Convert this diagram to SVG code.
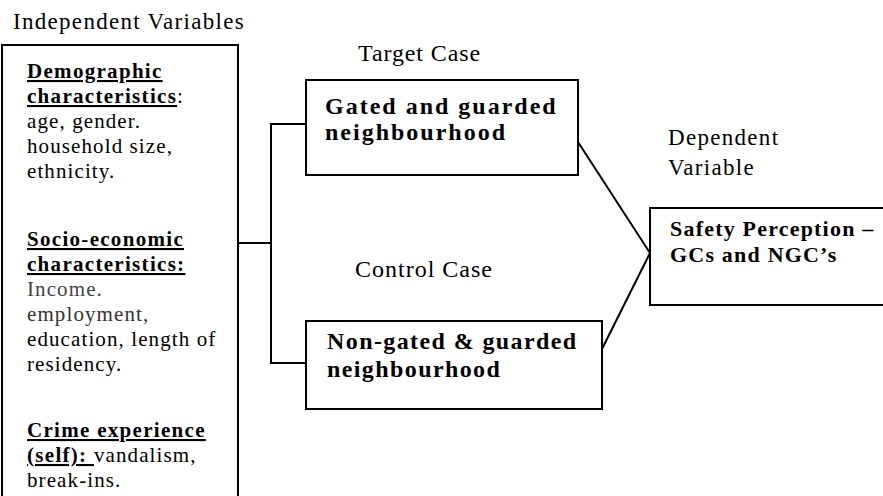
<svg xmlns="http://www.w3.org/2000/svg" width="883" height="496" viewBox="0 0 883 496">
<style>
.t{font-family:"Liberation Serif","Times New Roman",serif;fill:#000}
.r{font-size:21px;letter-spacing:1.1px}
.b{font-size:21px;font-weight:bold;letter-spacing:1.3px}
.u{text-decoration:underline}
.lbl{font-size:23px;letter-spacing:1.3px}
.bx{font-size:24px;font-weight:bold;letter-spacing:2px}
.box{fill:#fff;stroke:#000;stroke-width:2}
.c{fill:none;stroke:#000;stroke-width:2}
</style>
<rect width="883" height="496" fill="#fff"/>
<text class="t lbl" x="13" y="29">Independent Variables</text>
<text class="t lbl" style="font-size:24px;letter-spacing:0.9px" x="358" y="61">Target Case</text>
<text class="t lbl" style="font-size:24px;letter-spacing:1px" x="355" y="277">Control Case</text>
<text class="t lbl" x="668" y="145">Dependent</text>
<text class="t lbl" x="668" y="175">Variable</text>
<g id="connectors">
<path class="c" d="M238 243H271M306 124H271V363H306"/>
<path class="c" d="M578 142L650 253L602 349"/>
</g>
<g id="independent">
<rect class="box" x="2" y="45" width="236" height="470"/>
<text class="t" x="27">
<tspan class="b u" y="78">Demographic</tspan>
<tspan class="b u" x="27" y="103">characteristics</tspan><tspan class="r">:</tspan>
<tspan class="r" x="27" y="128">age, gender.</tspan>
<tspan class="r" x="27" y="153">household size,</tspan>
<tspan class="r" x="27" y="178">ethnicity.</tspan>
<tspan class="b u" x="27" y="246">Socio-economic</tspan>
<tspan class="b u" x="27" y="271">characteristics:</tspan>
<tspan class="r" x="27" y="296" fill="#444">Income.</tspan>
<tspan class="r" x="27" y="321" fill="#333">employment,</tspan>
<tspan class="r" x="27" y="346">education, length of</tspan>
<tspan class="r" x="27" y="371">residency.</tspan>
<tspan class="b u" x="27" y="437">Crime experience</tspan>
<tspan class="b u" x="27" y="462">(self): </tspan><tspan class="r">vandalism,</tspan>
<tspan class="r" x="27" y="487">break-ins.</tspan>
</text>
</g>
<g id="target">
<rect class="box" x="306" y="80" width="272" height="95"/>
<text class="t bx" x="325" y="114">Gated and guarded</text>
<text class="t bx" x="325" y="140">neighbourhood</text>
</g>
<g id="control">
<rect class="box" x="306" y="321" width="296" height="88"/>
<text class="t bx" style="letter-spacing:1.4px" x="327" y="349">Non-gated &amp; guarded</text>
<text class="t bx" style="letter-spacing:1.4px" x="327" y="377">neighbourhood</text>
</g>
<g id="dependent">
<rect class="box" x="650" y="208" width="240" height="97"/>
<text class="t bx" style="font-size:22px;letter-spacing:1.2px" x="670" y="236">Safety Perception –</text>
<text class="t bx" style="font-size:22px;letter-spacing:1.2px" x="670" y="262">GCs and NGC’s</text>
</g>
</svg>
